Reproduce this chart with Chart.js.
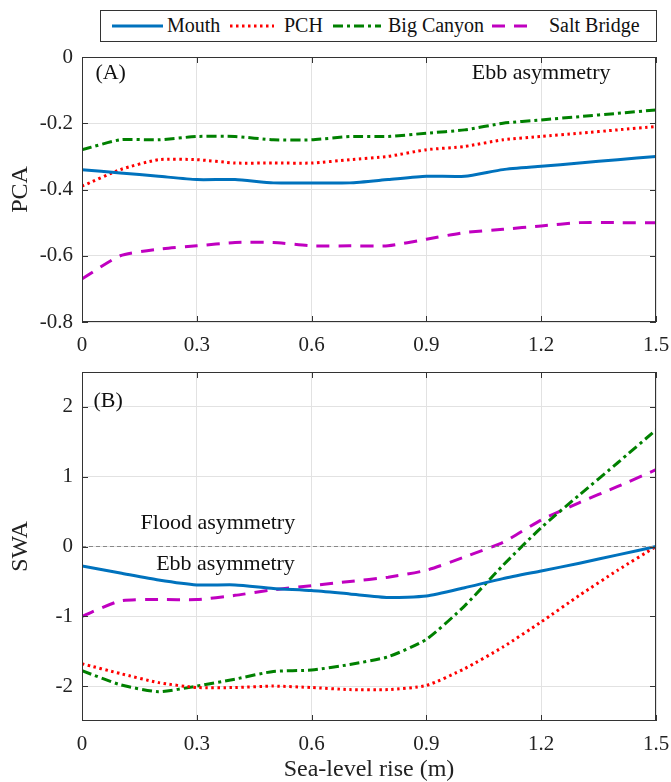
<!DOCTYPE html>
<html>
<head>
<meta charset="utf-8">
<script src="https://cdn.jsdelivr.net/npm/chart.js@4"></script>
<style>
  body { margin: 0; background: #fff; font-family: "Liberation Serif", serif; }
  #wrap { position: relative; width: 671px; height: 782px; overflow: hidden; }
  .panel { position: absolute; left: 0; width: 671px; }
  #legend { position: absolute; left: 100px; top: 10px; width: 555px; height: 30px;
    border: 1px solid #333; font-size: 20px; color: #111; background: #fff; }
  #legend .sample { position: absolute; top: 10px; }
  #legend .name { position: absolute; top: 2px; line-height: 24px; white-space: nowrap; }
</style>
</head>
<body>
<div id="wrap">
  <div class="panel" style="top:0;height:362px"><canvas id="pcaChart"></canvas></div>
  <div class="panel" style="top:350px;height:432px"><canvas id="swaChart"></canvas></div>
  <div id="legend"></div>
</div>
<script>
// sea-level rise (m)
const slr = [0, 0.1, 0.2, 0.3, 0.4, 0.5, 0.6, 0.7, 0.8, 0.9, 1.0, 1.1, 1.2, 1.3, 1.4, 1.5];

// panel A: PCA
const pcaMouth = [-0.34, -0.35, -0.36, -0.37, -0.37, -0.38, -0.38, -0.38, -0.37, -0.36, -0.36, -0.34, -0.33, -0.32, -0.31, -0.30];
const pcaPCH = [-0.39, -0.34, -0.31, -0.31, -0.32, -0.32, -0.32, -0.31, -0.30, -0.28, -0.27, -0.25, -0.24, -0.23, -0.22, -0.21];
const pcaBigCanyon = [-0.28, -0.25, -0.25, -0.24, -0.24, -0.25, -0.25, -0.24, -0.24, -0.23, -0.22, -0.20, -0.19, -0.18, -0.17, -0.16];
const pcaSaltBridge = [-0.67, -0.60, -0.58, -0.57, -0.56, -0.56, -0.57, -0.57, -0.57, -0.55, -0.53, -0.52, -0.51, -0.50, -0.50, -0.50];

// panel B: SWA
const swaMouth = [-0.28, -0.38, -0.48, -0.55, -0.55, -0.60, -0.63, -0.68, -0.73, -0.71, -0.59, -0.46, -0.35, -0.24, -0.12, 0.0];
const swaPCH = [-1.68, -1.82, -1.95, -2.02, -2.02, -2.00, -2.02, -2.05, -2.05, -1.99, -1.75, -1.44, -1.08, -0.70, -0.34, 0.0];
const swaBigCanyon = [-1.78, -1.98, -2.08, -2.00, -1.90, -1.79, -1.77, -1.69, -1.58, -1.33, -0.85, -0.27, 0.27, 0.74, 1.20, 1.67];
const swaSaltBridge = [-1.00, -0.78, -0.76, -0.76, -0.70, -0.62, -0.56, -0.50, -0.44, -0.34, -0.15, 0.06, 0.38, 0.63, 0.86, 1.10];

const zeroX = [0, 1.5];
const zeroY = [0, 0];

const xTicks = [0, 0.3, 0.6, 0.9, 1.2, 1.5];
const pcaTicks = [-0.8, -0.6, -0.4, -0.2, 0];
const swaTicks = [-2, -1, 0, 1, 2];

const names = ['Mouth', 'PCH', 'Big Canyon', 'Salt Bridge'];
const styles = [
  { color: '#0072BD', dash: [] },
  { color: '#FF0000', dash: [2.5, 3.5] },
  { color: '#008000', dash: [10, 4, 3, 4] },
  { color: '#C000C0', dash: [13, 9] }
];

const serif = '"Liberation Serif", "Times New Roman", serif';

function pts(xs, ys) { return xs.map((x, i) => ({ x: x, y: ys[i] })); }

function series(arrs) {
  return arrs.map((a, i) => ({
    label: names[i],
    data: pts(slr, a),
    borderColor: styles[i].color,
    borderDash: styles[i].dash,
    borderWidth: 3,
    pointRadius: 0,
    tension: 0.2,
    fill: false
  }));
}

// frame with inward ticks, like the original
const framePlugin = {
  id: 'frame',
  afterDraw(chart) {
    const { ctx, chartArea: a, scales } = chart;
    ctx.save();
    ctx.strokeStyle = '#333';
    ctx.lineWidth = 1;
    ctx.strokeRect(a.left + 0.5, a.top + 0.5, a.right - a.left - 1, a.bottom - a.top - 1);
    ctx.beginPath();
    scales.x.ticks.forEach(t => {
      const px = Math.round(scales.x.getPixelForValue(t.value)) + 0.5;
      ctx.moveTo(px, a.bottom); ctx.lineTo(px, a.bottom - 6);
      ctx.moveTo(px, a.top); ctx.lineTo(px, a.top + 6);
    });
    scales.y.ticks.forEach(t => {
      const py = Math.round(scales.y.getPixelForValue(t.value)) + 0.5;
      ctx.moveTo(a.left, py); ctx.lineTo(a.left + 6, py);
      ctx.moveTo(a.right, py); ctx.lineTo(a.right - 6, py);
    });
    ctx.stroke();
    ctx.restore();
  }
};

const notePlugin = {
  id: 'notes',
  afterDatasetsDraw(chart, args, opts) {
    const { ctx, scales } = chart;
    ctx.save();
    ctx.fillStyle = '#111';
    ctx.font = '22px ' + serif;
    ctx.textBaseline = 'middle';
    (opts.items || []).forEach(n => {
      ctx.textAlign = n.align || 'center';
      ctx.fillText(n.text, scales.x.getPixelForValue(n.x), scales.y.getPixelForValue(n.y));
    });
    ctx.restore();
  }
};

function makeOptions(yTicks, yMin, yMax, yTitle, xTitle, padTop, xHeight, notes) {
  return {
    responsive: true,
    maintainAspectRatio: false,
    animation: false,
    layout: { padding: { top: padTop, right: 15, left: 0, bottom: 0 } },
    plugins: { legend: { display: false }, tooltip: { enabled: false }, notes: { items: notes } },
    scales: {
      x: {
        type: 'linear', min: 0, max: 1.5,
        afterBuildTicks: s => { s.ticks = xTicks.map(v => ({ value: v })); },
        afterFit: s => { s.height = xHeight; s.paddingLeft = 0; s.paddingRight = 0; },
        grid: { color: '#e2e2e2', drawTicks: false },
        border: { display: false },
        ticks: { padding: 11, color: '#222', font: { family: serif, size: 21 },
          callback: v => String(Number(v.toFixed(1))) },
        title: { display: !!xTitle, text: xTitle, color: '#222', padding: 0,
          font: { family: serif, size: 24, lineHeight: 1.0 } }
      },
      y: {
        type: 'linear', min: yMin, max: yMax,
        afterBuildTicks: s => { s.ticks = yTicks.map(v => ({ value: v })); },
        afterFit: s => { s.width = 82; s.paddingTop = 0; s.paddingBottom = 0; },
        grid: { color: '#e2e2e2', drawTicks: false },
        border: { display: false },
        ticks: { padding: 9, color: '#222', font: { family: serif, size: 21 },
          callback: v => v === 0 ? '0' : String(Number(v.toFixed(1))) },
        title: { display: true, text: yTitle, color: '#222', padding: { top: 9, bottom: 0 },
          font: { family: serif, size: 24, lineHeight: 1.0 } }
      }
    }
  };
}

new Chart(document.getElementById('pcaChart'), {
  type: 'line',
  data: { datasets: series([pcaMouth, pcaPCH, pcaBigCanyon, pcaSaltBridge]) },
  options: makeOptions(pcaTicks, -0.8, 0, 'PCA', '', 57, 40, [
    { text: '(A)', x: 0.035, y: -0.05, align: 'left' },
    { text: 'Ebb asymmetry', x: 1.2, y: -0.05 }
  ]),
  plugins: [framePlugin, notePlugin]
});

const swaSets = series([swaMouth, swaPCH, swaBigCanyon, swaSaltBridge]);
swaSets.unshift({
  label: 'zero', data: pts(zeroX, zeroY), borderColor: '#888', borderDash: [4, 3],
  borderWidth: 1, pointRadius: 0, fill: false
});

new Chart(document.getElementById('swaChart'), {
  type: 'line',
  data: { datasets: swaSets },
  options: makeOptions(swaTicks, -2.5, 2.5, 'SWA', 'Sea-level rise (m)', 22, 61, [
    { text: '(B)', x: 0.03, y: 2.08, align: 'left' },
    { text: 'Flood asymmetry', x: 0.355, y: 0.34 },
    { text: 'Ebb asymmetry', x: 0.375, y: -0.25 }
  ]),
  plugins: [framePlugin, notePlugin]
});

// boxed legend, positions relative to the box
const legend = document.getElementById('legend');
const sampleLeft = [11, 129, 232, 391];
const sampleW = [51, 44, 48, 40];
const nameLeft = [66, 183, 287, 448];
names.forEach((n, i) => {
  const w = sampleW[i];
  const dash = styles[i].dash.length ? styles[i].dash.join(',') : 'none';
  legend.insertAdjacentHTML('beforeend',
    '<svg class="sample" style="left:' + sampleLeft[i] + 'px" width="' + w + '" height="10">' +
    '<line x1="0" y1="5" x2="' + w + '" y2="5" stroke="' + styles[i].color +
    '" stroke-width="3" stroke-dasharray="' + dash + '"/></svg>' +
    '<span class="name" style="left:' + nameLeft[i] + 'px">' + n + '</span>');
});
</script>
</body>
</html>
